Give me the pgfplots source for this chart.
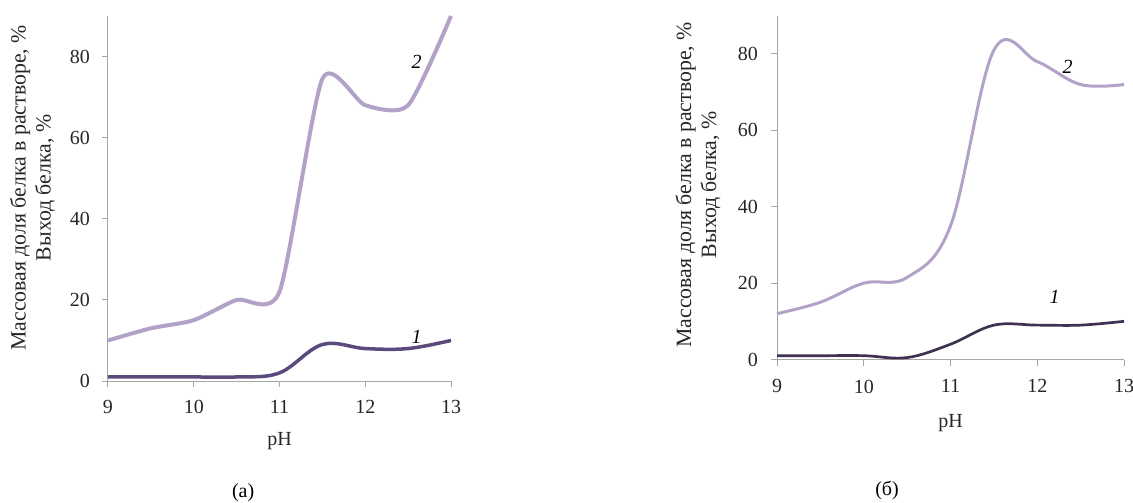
\documentclass[border=0pt]{standalone}
\usepackage{fontspec}
\setmainfont{Liberation Serif}
\usepackage{pgfplots}
\pgfplotsset{compat=1.18}

\definecolor{yieldcol}{HTML}{B3A2C7}
\definecolor{fracAcol}{HTML}{5B4A7C}
\definecolor{fracBcol}{HTML}{3F3152}
\definecolor{axisgray}{HTML}{A6A6A6}

\newcommand{\chartfont}{\fontsize{20}{25}\selectfont}
\newcommand{\labelfont}{\fontsize{21.8}{25}\selectfont}

% Protein content vs pH, panel (a)
\pgfplotstableread{
ph   frac  yield
9    1     10
9.5  1     13
10   1     15
10.5 1     20
11   2     22
11.5 9     74.5
12   8     68
12.5 8     68
13   10    90
}\panelA

% Protein content vs pH, panel (b)
\pgfplotstableread{
ph   frac  yield
9    1     12
9.5  1     15
10   1     20
10.5 0.5   21.5
11   4     35
11.5 9     81
12   9     78
12.5 9     72
13   10    72
}\panelB

\pgfplotsset{
  phpanel/.style={
    scale only axis,
    anchor=south west,
    xmin=9, xmax=13, ymin=0, ymax=90,
    xtick={9,10,11,12,13},
    ytick={0,20,40,60,80},
    axis x line=bottom, axis y line=left,
    axis line style={axisgray, line width=1pt, -},
    every tick/.style={axisgray, line width=1pt},
    tick align=outside,
    major tick length=6pt,
    /pgf/number format/assume math mode=true,
    ticklabel style={font=\chartfont, inner sep=0pt, color=black!85},
    xlabel={pH},
    ylabel={Массовая доля белка в растворе, \%\\Выход белка, \%},
    xlabel style={font=\chartfont, color=black!85},
    ylabel style={font=\labelfont, color=black!85, anchor=center, align=center, rotate=0},
    clip=false,
  },
}

\begin{document}
\begin{tikzpicture}
\path[use as bounding box] (0pt,0pt) rectangle (1133pt,-503pt);

\begin{axis}[phpanel,
  at={(108pt,-381pt)}, width=343pt, height=365pt,
  xticklabel style={anchor=north, yshift=-13pt},
  yticklabel style={anchor=east, xshift=-12pt},
  xlabel style={at={(axis description cs:0.5,0)}, anchor=base, yshift=-64pt},
  ylabel style={at={(axis description cs:-0.220,0.529)}},
]
  \addplot[yieldcol, line width=4pt, smooth, tension=0.4] table[x=ph, y=yield] {\panelA};
  \addplot[fracAcol, line width=3.5pt, smooth, tension=0.6] table[x=ph, y=frac] {\panelA};
  \node[font=\chartfont\itshape] at (axis cs:12.6,78.8) {2};
  \node[font=\chartfont\itshape] at (axis cs:12.6,10.8) {1};
  \node[font=\chartfont, anchor=base] at (axis description cs:0.394,-0.318) {(а)};
\end{axis}

\begin{axis}[phpanel,
  at={(777pt,-359.5pt)}, width=347pt, height=343.7pt,
  xticklabel style={anchor=north, yshift=-14pt},
  yticklabel style={anchor=east, xshift=-13pt},
  xlabel style={at={(axis description cs:0.5,0)}, anchor=base, yshift=-67.5pt},
  ylabel style={at={(axis description cs:-0.228,0.508)}},
]
  \addplot[yieldcol, line width=3pt, smooth, tension=0.6] table[x=ph, y=yield] {\panelB};
  \addplot[fracBcol, line width=2.7pt, smooth, tension=0.6] table[x=ph, y=frac] {\panelB};
  \node[font=\chartfont\itshape] at (axis cs:12.35,76.5) {2};
  \node[font=\chartfont\itshape] at (axis cs:12.2,16.3) {1};
  \node[font=\chartfont, anchor=base] at (axis description cs:0.317,-0.397) {(б)};
\end{axis}
\end{tikzpicture}
\end{document}
